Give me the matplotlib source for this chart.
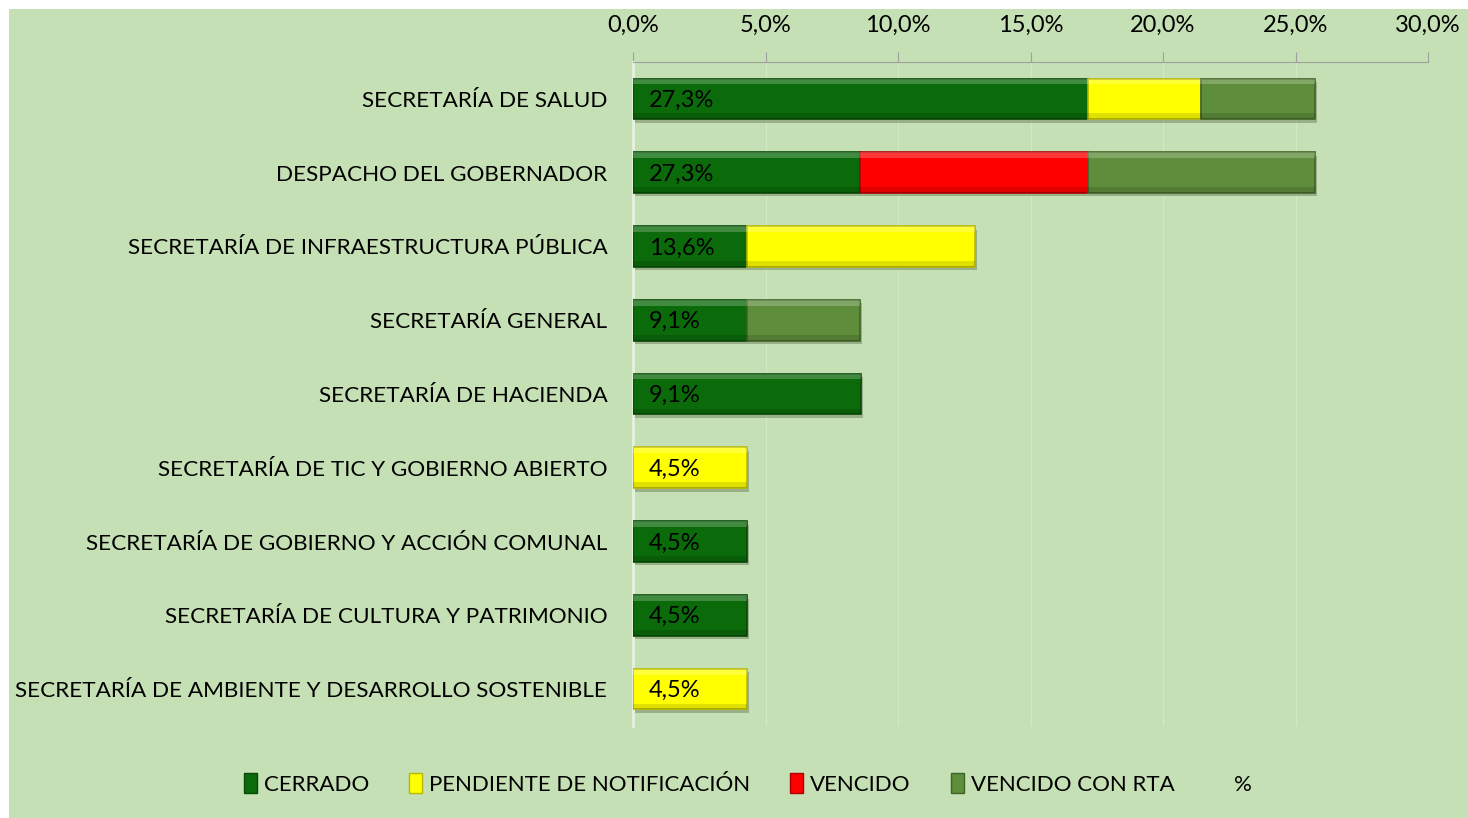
import matplotlib
matplotlib.use("Agg")
import matplotlib.pyplot as plt
from matplotlib.patches import Patch, Rectangle
from matplotlib.lines import Line2D
import matplotlib.patheffects as pe
from matplotlib.ticker import FuncFormatter, MultipleLocator
import numpy as np

plt.rcParams['font.family'] = ['Lato', 'DejaVu Sans']

categories = [
    "SECRETARÍA DE SALUD",
    "DESPACHO DEL GOBERNADOR",
    "SECRETARÍA DE INFRAESTRUCTURA PÚBLICA",
    "SECRETARÍA GENERAL",
    "SECRETARÍA DE HACIENDA",
    "SECRETARÍA DE TIC Y GOBIERNO ABIERTO",
    "SECRETARÍA DE GOBIERNO Y ACCIÓN COMUNAL",
    "SECRETARÍA DE CULTURA Y PATRIMONIO",
    "SECRETARÍA DE AMBIENTE Y DESARROLLO SOSTENIBLE",
]
cerrado = [17.16, 8.58, 4.29, 4.29, 8.60, 0.0, 4.29, 4.29, 0.0]
pendiente = [4.29, 0.0, 8.60, 0.0, 0.0, 4.29, 0.0, 0.0, 4.29]
vencido = [0.0, 8.58, 0.0, 0.0, 0.0, 0.0, 0.0, 0.0, 0.0]
vencido_rta = [4.29, 8.58, 0.0, 4.29, 0.0, 0.0, 0.0, 0.0, 0.0]
pct_labels = ["27,3%", "27,3%", "13,6%", "9,1%", "9,1%", "4,5%", "4,5%", "4,5%", "4,5%"]

series = [
    ("CERRADO", cerrado, "#0b6b0b", "#064a06"),
    ("PENDIENTE DE NOTIFICACIÓN", pendiente, "#ffff00", "#b8b800"),
    ("VENCIDO", vencido, "#ff0000", "#b00000"),
    ("VENCIDO CON RTA", vencido_rta, "#5e8d3c", "#3f6526"),
]

W, H = 1468, 818
bg = "#c5e0b4"
fig = plt.figure(figsize=(W / 100, H / 100), dpi=100, facecolor="white")
fig.patches.append(Rectangle((9 / W, 0), 1, 1 - 9 / H, transform=fig.transFigure,
                             facecolor=bg, edgecolor="none", zorder=-10))

ax = fig.add_axes([633 / W, 1 - 726 / H, (1428 - 633) / W, (726 - 62) / H])
ax.set_facecolor("none")

y = np.arange(len(categories))
left = np.zeros(len(categories))
bh = 0.55
shadow = [pe.SimplePatchShadow(offset=(1.5, -2.5), shadow_rgbFace="#7a8f6c", alpha=0.6), pe.Normal()]
for name, vals, col, dark in series:
    vals = np.array(vals)
    bars = ax.barh(y, vals, left=left, height=bh, color=col, edgecolor=dark,
                   linewidth=1.2, zorder=3)
    for b, v in zip(bars, vals):
        if v <= 0:
            b.set_visible(False)
            continue
        b.set_path_effects(shadow)
        x0, y0, w, h = b.get_x(), b.get_y(), b.get_width(), b.get_height()
        ax.add_patch(Rectangle((x0, y0), w, h * 0.14, facecolor="white", alpha=0.22,
                               edgecolor="none", zorder=4))
        ax.add_patch(Rectangle((x0, y0 + h * 0.86), w, h * 0.14, facecolor="black", alpha=0.12,
                               edgecolor="none", zorder=4))
    left = left + vals

for yi, lab in zip(y, pct_labels):
    ax.text(0.6, yi + 0.02, lab, va="center", ha="left", fontsize=17, color="black", zorder=6)

ax.set_xlim(0, 30)
ax.set_ylim(len(categories) - 0.5, -0.5)
ax.xaxis.set_major_locator(MultipleLocator(5))
ax.xaxis.set_major_formatter(FuncFormatter(lambda v, p: f"{v:.1f}%".replace(".", ",")))
ax.xaxis.tick_top()
ax.tick_params(axis="x", which="major", length=7, direction="out", color="#a0a0a0",
               labelsize=17, pad=12)
ax.tick_params(axis="y", length=0, labelsize=16.2, pad=18.5)
ax.set_yticks(y)
ax.set_yticklabels(categories)
ax.grid(axis="x", color="#d3e8c6", linewidth=1, zorder=0)
for s in ["right", "bottom"]:
    ax.spines[s].set_visible(False)
ax.spines["top"].set_color("#a0a0a0")
ax.spines["left"].set_color("#e6f1de")
ax.spines["left"].set_linewidth(2)

handles = [Patch(facecolor=c, edgecolor=d, label=n) for n, _, c, d in series]
handles.append(Line2D([], [], linestyle="none", marker=None, label="%"))
fig.legend(handles=handles, loc="center", bbox_to_anchor=(748 / W, 1 - 784 / H), ncol=5,
           frameon=False, fontsize=16, handlelength=0.6, handleheight=1.0,
           handletextpad=0.3, columnspacing=1.8)

fig.savefig("out.png", dpi=100, facecolor=fig.get_facecolor())
